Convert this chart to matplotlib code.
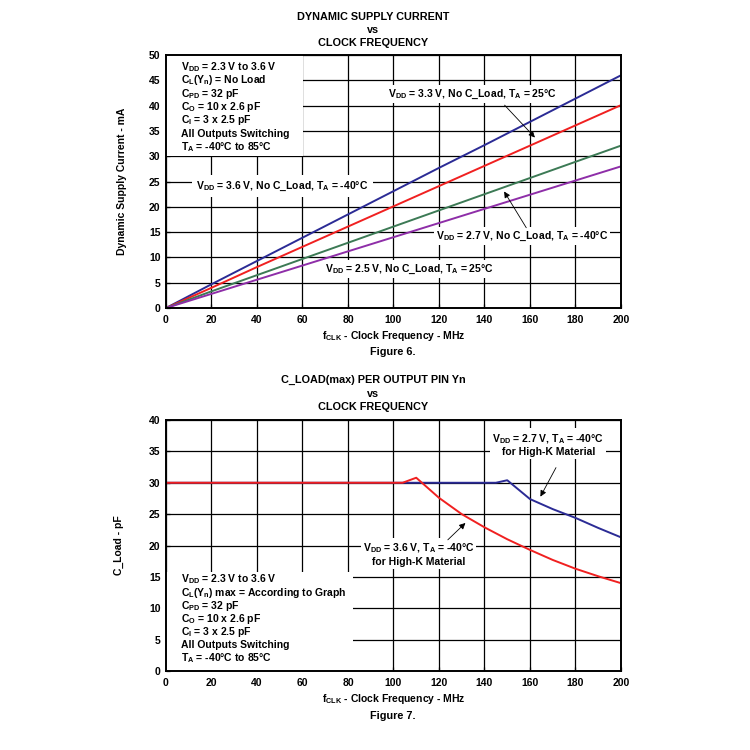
import matplotlib.pyplot as plt
from matplotlib.patches import Rectangle

plt.rcParams['font.family'] = ['Liberation Sans', 'DejaVu Sans']
plt.rcParams['font.weight'] = 'bold'
plt.rcParams['mathtext.default'] = 'bf'

FS = 7.5
FT = 7.8

# Figure 6 data: dynamic supply current (mA) vs clock frequency (MHz)
freq = [0, 20, 40, 60, 80, 100, 120, 140, 160, 180, 200]
i_36v_m40 = [0, 4.7, 9.3, 13.9, 18.5, 23.1, 27.7, 32.2, 36.8, 41.4, 46.0]
i_33v_25 = [0, 4.0, 8.1, 12.1, 16.1, 20.1, 24.1, 28.1, 32.1, 36.1, 40.1]
i_27v_m40 = [0, 3.3, 6.5, 9.7, 12.9, 16.1, 19.3, 22.5, 25.7, 28.9, 32.1]
i_25v_25 = [0, 2.8, 5.6, 8.4, 11.2, 14.0, 16.8, 19.6, 22.4, 25.2, 28.0]

# Figure 7 data: max load capacitance (pF) vs clock frequency (MHz)
f_27 = [0, 100, 145, 150, 160, 170, 180, 190, 200]
c_27 = [30, 30, 30, 30.4, 27.4, 25.8, 24.4, 22.8, 21.3]
f_36 = [0, 104, 110, 120, 130, 140, 150, 160, 170, 180, 190, 200]
c_36 = [30, 30, 30.8, 27.6, 25.0, 22.9, 21.0, 19.3, 17.7, 16.3, 15.1, 14.0]

conditions_top = ['V$_\\mathregular{DD}$ = 2.3 V to 3.6 V',
                  'C$_\\mathregular{L}$(Y$_\\mathregular{n}$) = No Load',
                  'C$_\\mathregular{PD}$ = 32 pF',
                  'C$_\\mathregular{O}$ = 10 x 2.6 pF',
                  'C$_\\mathregular{I}$ = 3 x 2.5 pF',
                  'All Outputs Switching',
                  'T$_\\mathregular{A}$ = -40°C to 85°C']
conditions_bot = ['V$_\\mathregular{DD}$ = 2.3 V to 3.6 V',
                  'C$_\\mathregular{L}$(Y$_\\mathregular{n}$) max = According to Graph',
                  'C$_\\mathregular{PD}$ = 32 pF',
                  'C$_\\mathregular{O}$ = 10 x 2.6 pF',
                  'C$_\\mathregular{I}$ = 3 x 2.5 pF',
                  'All Outputs Switching',
                  'T$_\\mathregular{A}$ = -40°C to 85°C']

box_kw = dict(facecolor='white', edgecolor='none', pad=1.5)


def style_axes(ax, ymax, ystep):
    ax.set_xlim(0, 200)
    ax.set_ylim(0, ymax)
    ax.set_xticks(range(0, 201, 20))
    ax.set_yticks(range(0, ymax + 1, ystep))
    ax.grid(True, color='black', linewidth=0.9)
    ax.set_axisbelow(True)
    for s in ax.spines.values():
        s.set_linewidth(1.4)
    ax.tick_params(labelsize=FS, length=3, width=0.9, direction='in')
    ax.tick_params(axis='x', pad=5)
    ax.tick_params(axis='y', pad=4)
    for lab in ax.get_xticklabels() + ax.get_yticklabels():
        lab.set_fontweight('bold')


def cond_block(ax, lines, y0, dy, x1, y1, top):
    # white panel hiding the grid behind the conditions text
    if top:
        ax.add_patch(Rectangle((0, y1), x1, ax.get_ylim()[1] - y1, facecolor='white',
                               edgecolor='none', zorder=1))
    else:
        ax.add_patch(Rectangle((0, 0), x1, y1, facecolor='white', edgecolor='none', zorder=1))
    for k, t in enumerate(lines):
        ax.text(6.4, y0 - k * dy, t, ha='left', va='center', fontsize=FS, fontweight='bold', zorder=3)


fig = plt.figure(figsize=(7.5, 7.5), dpi=100)

# ---- Figure 6 ----
ax1 = fig.add_axes([0.2213, 0.5893, 0.6067, 0.3373])
ax1.plot(freq, i_36v_m40, color='#2b2b95', lw=1.4, zorder=2)
ax1.plot(freq, i_33v_25, color='#f02020', lw=1.4, zorder=2)
ax1.plot(freq, i_27v_m40, color='#3c7a55', lw=1.4, zorder=2)
ax1.plot(freq, i_25v_25, color='#8e2ea8', lw=1.4, zorder=2)
style_axes(ax1, 50, 5)
ax1.set_ylabel('Dynamic Supply Current - mA', fontsize=FS, fontweight='bold', labelpad=16)
ax1.set_xlabel(r'f$_\mathregular{CLK}$ - Clock Frequency - MHz', fontsize=FS, fontweight='bold', labelpad=3)

fig.text(0.498, 0.978, 'DYNAMIC SUPPLY CURRENT', ha='center', va='center', fontsize=FT, fontweight='bold')
fig.text(0.498, 0.960, 'vs', ha='center', va='center', fontsize=FT, fontweight='bold')
fig.text(0.498, 0.942, 'CLOCK FREQUENCY', ha='center', va='center', fontsize=FT, fontweight='bold')
fig.text(0.523, 0.531, 'Figure 6.', ha='center', va='center', fontsize=FT, fontweight='bold')

cond_block(ax1, conditions_top, 47.7, 2.65, 60.3, 30.0, True)
ax1.text(97.5, 42.3, 'V$_\\mathregular{DD}$ = 3.3 V, No C_Load, T$_\\mathregular{A}$ = 25°C',
         ha='left', va='center', fontsize=FS, fontweight='bold', bbox=box_kw, zorder=3)
ax1.text(13.4, 24.1, 'V$_\\mathregular{DD}$ = 3.6 V, No C_Load, T$_\\mathregular{A}$ = -40°C',
         ha='left', va='center', fontsize=FS, fontweight='bold', bbox=dict(facecolor='white', edgecolor='none', pad=3), zorder=1)
ax1.text(118.7, 14.2, 'V$_\\mathregular{DD}$ = 2.7 V, No C_Load, T$_\\mathregular{A}$ = -40°C',
         ha='left', va='center', fontsize=FS, fontweight='bold', bbox=box_kw, zorder=3)
ax1.text(69.8, 7.7, 'V$_\\mathregular{DD}$ = 2.5 V, No C_Load, T$_\\mathregular{A}$ = 25°C',
         ha='left', va='center', fontsize=FS, fontweight='bold', bbox=box_kw, zorder=3)
ax1.annotate('', xy=(163, 33.3), xytext=(148, 40.5),
             arrowprops=dict(arrowstyle='-|>', color='black', lw=0.6, mutation_scale=9))
ax1.annotate('', xy=(148, 23.5), xytext=(159, 15.4),
             arrowprops=dict(arrowstyle='-|>', color='black', lw=0.6, mutation_scale=9))

# ---- Figure 7 ----
ax2 = fig.add_axes([0.2213, 0.1053, 0.6067, 0.3347])
ax2.plot(f_27, c_27, color='#2b2b95', lw=1.4, zorder=2)
ax2.plot(f_36, c_36, color='#f02020', lw=1.4, zorder=2)
style_axes(ax2, 40, 5)
ax2.set_ylabel('C_Load - pF', fontsize=FS, fontweight='bold', labelpad=18)
ax2.set_xlabel(r'f$_\mathregular{CLK}$ - Clock Frequency - MHz', fontsize=FS, fontweight='bold', labelpad=3)

fig.text(0.498, 0.493, 'C_LOAD(max) PER OUTPUT PIN Yn', ha='center', va='center', fontsize=FT, fontweight='bold')
fig.text(0.498, 0.475, 'vs', ha='center', va='center', fontsize=FT, fontweight='bold')
fig.text(0.498, 0.457, 'CLOCK FREQUENCY', ha='center', va='center', fontsize=FT, fontweight='bold')
fig.text(0.523, 0.045, 'Figure 7.', ha='center', va='center', fontsize=FT, fontweight='bold')

cond_block(ax2, conditions_bot, 14.6, 2.1, 82.0, 15.8, False)
ax2.text(168, 36.1, 'V$_\\mathregular{DD}$ = 2.7 V, T$_\\mathregular{A}$ = -40°C\nfor High-K Material',
         ha='center', va='center', fontsize=FS, fontweight='bold', linespacing=1.15, bbox=box_kw, zorder=3)
ax2.text(111, 18.6, 'V$_\\mathregular{DD}$ = 3.6 V, T$_\\mathregular{A}$ = -40°C\nfor High-K Material',
         ha='center', va='center', fontsize=FS, fontweight='bold', linespacing=1.15, bbox=box_kw, zorder=3)
ax2.annotate('', xy=(164, 27.4), xytext=(172, 32.8),
             arrowprops=dict(arrowstyle='-|>', color='black', lw=0.6, mutation_scale=9))
ax2.annotate('', xy=(132.5, 23.9), xytext=(123, 20.6),
             arrowprops=dict(arrowstyle='-|>', color='black', lw=0.6, mutation_scale=9))

fig.savefig('out.png', dpi=100)
